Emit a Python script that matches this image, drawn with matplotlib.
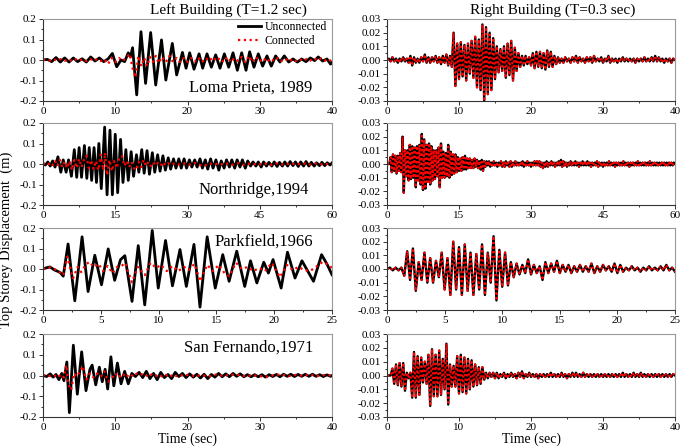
import matplotlib
matplotlib.use('Agg')
import matplotlib.pyplot as plt
import numpy as np
from matplotlib.ticker import MultipleLocator, AutoMinorLocator, FormatStrFormatter

plt.rcParams['font.family'] = ['Liberation Serif', 'DejaVu Serif']
plt.rcParams['axes.unicode_minus'] = False

# ---- left building (T=1.2 s): peaks, (time s, displacement m)
lp_unc = [(0, 0), (0.6, 0.003), (1.2, -0.008), (1.8, 0.012), (2.4, -0.01), (3.0, 0.01),
          (3.6, -0.01), (4.2, 0.01), (4.8, -0.008), (5.4, 0.006), (6.0, -0.01), (6.6, 0.015),
          (7.2, -0.005), (7.8, 0.01), (8.4, -0.008), (9.0, 0.005), (9.6, 0.032), (10.2, -0.033),
          (10.8, 0.0), (11.3, -0.008), (11.8, 0.035), (12.1, 0.015), (12.4, 0.06), (12.97, -0.17),
          (13.56, 0.138), (14.2, -0.114), (14.9, 0.134), (15.6, -0.122), (16.4, 0.098),
          (17.0, -0.098), (17.9, 0.081), (18.5, -0.073), (19.3, 0.037), (19.8, -0.04),
          (20.3, 0.035), (20.9, -0.045), (21.6, 0.03), (22.1, -0.04), (22.7, 0.03), (23.3, -0.035),
          (23.9, 0.025), (24.5, -0.04), (25.1, 0.03), (25.7, -0.035), (26.3, 0.035), (26.9, -0.05),
          (27.5, 0.035), (28.1, -0.05), (28.6, 0.04), (29.2, -0.035), (29.8, 0.03), (30.4, -0.03),
          (31.0, 0.02), (31.6, -0.03), (32.2, 0.02), (32.8, -0.01), (33.4, 0.02), (34.0, -0.01),
          (34.6, 0.005), (35.2, -0.01), (35.8, 0.005), (36.4, -0.008), (37.0, 0.01), (37.6, -0.003),
          (38.1, 0.015), (38.7, -0.005), (39.3, 0.005), (39.8, -0.02), (40.0, -0.012)]
lp_con = [(0, 0), (0.5, 0.002), (1.0, -0.003), (1.5, 0.004), (2.0, -0.004), (2.5, 0.005),
          (3.0, -0.004), (3.5, 0.004), (4.0, -0.005), (4.5, 0.004), (5.0, -0.004), (5.5, 0.005),
          (6.0, -0.005), (6.5, 0.006), (7.0, -0.004), (7.5, 0.005), (8.0, -0.005), (8.5, 0.004),
          (9.0, -0.02), (9.5, 0.01), (10.0, -0.01), (10.5, 0.01), (11.0, -0.005), (11.5, 0.01),
          (12.0, 0.03), (12.4, -0.04), (12.8, -0.085), (13.2, 0.02), (13.6, -0.03), (14.0, 0.01),
          (14.4, -0.03), (14.8, 0.015), (15.2, -0.01), (15.6, 0.02), (16.0, -0.015), (16.5, 0.015),
          (17.0, -0.01), (17.5, 0.02), (18.0, -0.01), (18.5, 0.01), (19.0, -0.01), (19.5, 0.01),
          (20.0, -0.01), (20.5, 0.01), (21.0, -0.008), (21.5, 0.012), (22.0, -0.01), (22.5, 0.01),
          (23.0, -0.005), (23.5, 0.015), (24.0, -0.005), (24.5, 0.01), (25.0, -0.01), (25.5, 0.015),
          (26.0, -0.01), (26.5, 0.01), (27.0, -0.005), (27.5, 0.015), (28.0, -0.01), (28.5, 0.02),
          (29.0, -0.01), (29.5, 0.015), (30.0, -0.008), (30.5, 0.01), (31.0, -0.01), (31.5, 0.008),
          (32.0, -0.005), (32.5, 0.01), (33.0, -0.005), (33.5, 0.008), (34.0, -0.008), (34.5, 0.005),
          (35.0, -0.005), (35.5, 0.005), (36.0, -0.005), (36.5, 0.005), (37.0, -0.003), (37.5, 0.01),
          (38.0, -0.003), (38.5, 0.008), (39.0, -0.003), (39.5, 0.005), (40.0, -0.01)]

nr_unc = [(0, 0), (0.5, -0.005), (1.0, 0.01), (1.5, -0.01), (2.0, 0.015), (2.5, -0.015),
          (3.1, 0.035), (3.7, -0.04), (4.2, 0.02), (4.8, -0.04), (5.3, 0.02), (5.9, -0.06),
          (6.5, 0.07), (7.0, -0.065), (7.5, 0.08), (8.0, -0.065), (8.6, 0.09), (9.1, -0.07),
          (9.6, 0.08), (10.1, -0.08), (10.6, 0.08), (11.1, -0.09), (11.6, 0.10), (12.1, -0.12),
          (12.8, 0.18), (13.3, -0.15), (13.9, 0.165), (14.4, -0.15), (15.0, 0.145), (15.5, -0.14),
          (16.1, 0.12), (16.6, -0.09), (17.2, 0.07), (17.7, -0.08), (18.3, 0.06), (18.8, -0.06),
          (19.4, 0.045), (19.9, -0.04), (20.5, 0.07), (21.0, -0.045), (21.6, 0.065), (22.1, -0.05),
          (22.7, 0.055), (23.2, -0.04), (23.8, 0.045), (24.3, -0.035), (24.9, 0.04), (25.4, -0.03),
          (26.0, 0.03), (26.5, -0.025), (27.1, 0.025), (27.6, -0.02), (28.2, 0.025), (28.7, -0.02),
          (29.3, 0.025), (29.8, -0.02), (30.4, 0.02), (30.9, -0.015), (31.5, 0.02), (32.0, -0.015),
          (32.6, 0.025), (33.1, -0.02), (33.7, 0.02), (34.2, -0.025), (34.8, 0.025), (35.3, -0.02),
          (35.9, 0.02), (36.5, -0.03), (37.0, 0.015), (37.6, -0.02), (38.1, 0.02), (38.7, -0.015),
          (39.2, 0.02), (39.8, -0.02), (40.3, 0.02), (40.9, -0.015), (41.4, 0.02), (42.0, -0.02),
          (42.5, 0.015), (43.1, -0.01), (43.6, 0.01), (44.2, -0.01), (44.7, 0.01), (45.3, -0.015),
          (45.8, 0.01), (46.4, -0.01), (46.9, 0.008), (47.5, -0.01), (48.0, 0.01), (48.6, -0.012),
          (49.1, 0.008), (49.7, -0.01), (50.2, 0.01), (50.8, -0.01), (51.3, 0.012), (51.9, -0.008),
          (52.4, 0.01), (53.0, -0.012), (53.5, 0.01), (54.1, -0.01), (54.6, 0.012), (55.2, -0.01),
          (55.7, 0.008), (56.3, -0.01), (56.8, 0.006), (57.4, -0.008), (57.9, 0.008), (58.5, -0.008),
          (59.0, 0.006), (59.6, -0.005), (60.0, 0.005)]
nr_con = [(0, 0), (0.5, 0.003), (1.0, -0.005), (1.5, 0.008), (2.0, -0.005), (2.5, 0.015),
          (3.0, -0.01), (3.5, 0.02), (4.0, -0.015), (4.5, 0.01), (5.0, -0.02), (5.5, 0.015),
          (6.0, -0.03), (6.5, 0.02), (7.0, -0.02), (7.5, 0.025), (8.0, -0.015), (8.5, 0.02),
          (9.0, 0.04), (9.5, -0.02), (10.0, 0.02), (10.5, -0.025), (11.0, 0.015), (11.5, -0.03),
          (12.0, 0.045), (12.5, -0.03), (12.9, 0.055), (13.3, -0.055), (13.8, 0.02), (14.3, -0.035),
          (14.8, 0.015), (15.3, -0.02), (15.8, 0.025), (16.4, 0.04), (16.9, -0.01), (17.4, 0.015),
          (17.9, -0.015), (18.4, 0.01), (18.9, -0.02), (19.4, -0.03), (19.9, 0.01), (20.4, -0.015),
          (20.9, 0.02), (21.4, -0.01), (21.9, 0.01), (22.4, -0.01), (22.9, 0.008), (23.4, -0.008),
          (23.9, 0.006), (24.4, -0.008), (24.9, 0.01), (25.4, -0.006), (25.9, 0.005), (26.5, -0.005),
          (27.5, 0.005), (28.5, -0.005), (29.5, 0.004), (30.5, -0.004), (31.5, 0.005), (32.5, -0.005),
          (33.5, -0.01), (34.5, 0.005), (35.5, -0.004), (36.5, 0.004), (37.5, -0.005), (38.5, 0.004),
          (39.5, -0.004), (40.5, 0.004), (41.5, -0.004), (42.5, 0.003), (43.5, -0.004), (44.5, 0.003),
          (45.5, -0.004), (46.5, 0.003), (47.5, -0.005), (48.5, 0.003), (49.5, -0.003), (50.5, 0.003),
          (51.5, -0.003), (52.5, 0.004), (53.5, -0.003), (54.5, 0.003), (55.5, -0.003), (56.5, 0.003),
          (57.5, -0.003), (58.5, 0.002), (59.5, -0.002), (60.0, 0)]

pf_unc = [(0, 0), (0.3, 0.006), (0.6, 0.01), (1.0, -0.005), (1.3, -0.012), (1.5, -0.018),
          (1.75, -0.035), (2.17, 0.122), (2.75, -0.155), (3.38, 0.157), (3.9, -0.11), (4.48, 0.067),
          (5.06, -0.077), (5.64, 0.098), (6.2, -0.055), (6.7, 0.045), (7.08, 0.065), (7.7, -0.158),
          (8.24, 0.114), (8.8, -0.175), (9.45, 0.188), (9.97, -0.093), (10.6, 0.139), (11.2, -0.082),
          (11.85, 0.095), (12.4, -0.085), (13.06, 0.12), (13.58, -0.186), (14.2, 0.157),
          (14.9, -0.093), (15.55, 0.07), (16.1, -0.06), (16.76, 0.087), (17.45, -0.085), (17.95, 0.04),
          (18.5, -0.068), (19.1, 0.033), (19.5, -0.02), (19.9, 0.046), (20.6, -0.093), (21.15, 0.082),
          (21.8, -0.044), (22.4, 0.04), (23.4, -0.06), (24.1, 0.07), (24.6, 0.02), (25.0, -0.028)]
pf_con = [(0, 0), (0.6, 0.008), (1.2, -0.005), (1.75, -0.03), (2.1, 0.06), (2.6, -0.045),
          (3.0, 0.01), (3.3, -0.015), (3.7, 0.02), (4.0, 0.035), (4.4, 0.01), (4.8, 0.025),
          (5.2, -0.01), (5.6, 0.015), (6.0, -0.02), (6.4, 0.01), (6.8, 0.015), (7.1, 0.03),
          (7.7, -0.065), (8.2, 0.01), (8.8, -0.03), (9.3, 0.03), (9.8, 0.005), (10.2, 0.02),
          (10.7, -0.01), (11.2, 0.015), (11.7, -0.01), (12.2, 0.01), (12.6, -0.005), (13.1, 0.025),
          (13.6, -0.06), (14.2, 0.02), (14.7, -0.01), (15.2, 0.02), (15.7, -0.02), (16.1, -0.035),
          (16.7, 0.03), (17.2, 0.0), (17.7, 0.01), (18.2, -0.01), (18.7, 0.005), (19.2, -0.01),
          (19.8, 0.03), (20.5, -0.04), (21.1, 0.02), (21.6, -0.005), (22.1, 0.01), (22.6, -0.005),
          (23.1, -0.01), (23.6, 0.01), (24.2, 0.035), (24.7, 0.02), (25.0, 0.005)]

sf_unc = [(0, 0), (0.5, -0.005), (1.0, 0.008), (1.4, -0.008), (1.8, 0.005), (2.2, -0.02),
          (2.6, 0.01), (2.9, -0.025), (3.3, 0.065), (3.65, -0.179), (4.2, 0.146), (4.75, -0.09),
          (5.35, 0.114), (5.95, -0.073), (6.5, 0.03), (6.8, 0.05), (7.3, -0.045), (7.8, 0.04),
          (8.2, -0.03), (8.6, 0.03), (8.95, -0.065), (9.4, 0.09), (9.8, -0.05), (10.3, 0.06),
          (10.8, -0.04), (11.3, 0.02), (11.8, -0.04), (12.3, 0.01), (12.8, -0.005), (13.3, 0.015),
          (13.8, -0.01), (14.3, 0.02), (14.8, -0.015), (15.3, 0.01), (15.8, -0.02), (16.3, 0.015),
          (16.8, -0.01), (17.3, 0.005), (17.8, -0.015), (18.3, 0.015), (18.8, -0.005), (19.3, 0.01),
          (19.8, -0.01), (20.3, 0.008), (20.8, -0.008), (21.3, 0.006), (21.8, -0.012), (22.3, 0.006),
          (22.8, -0.015), (23.3, 0.005), (23.8, -0.008), (24.3, 0.01), (24.8, -0.006), (25.3, 0.008),
          (25.8, -0.006), (26.3, 0.01), (26.8, -0.004), (27.3, 0.008), (27.8, -0.006), (28.3, 0.004),
          (28.8, -0.006), (29.3, 0.004), (29.8, -0.006), (30.3, 0.004), (30.8, -0.008), (31.3, 0.004),
          (31.8, -0.005), (32.3, 0.005), (32.8, -0.006), (33.3, 0.006), (33.8, -0.004), (34.3, 0.006),
          (34.8, -0.005), (35.3, 0.005), (35.8, -0.004), (36.3, 0.006), (36.8, -0.004), (37.3, 0.006),
          (37.8, -0.004), (38.3, 0.004), (38.8, -0.005), (39.3, 0.003), (39.8, -0.004), (40.0, 0)]
sf_con = [(0, 0), (0.5, 0.003), (1.0, -0.003), (1.5, 0.003), (2.0, -0.01), (2.5, 0.005),
          (2.9, -0.01), (3.2, 0.05), (3.5, -0.04), (3.9, -0.07), (4.3, 0.01), (4.7, -0.005),
          (5.1, 0.02), (5.5, 0.045), (6.0, -0.02), (6.5, 0.01), (7.0, -0.01), (7.5, 0.01),
          (8.0, -0.005), (8.5, 0.02), (9.0, -0.03), (9.5, -0.015), (10.0, 0.01), (10.5, -0.01),
          (11.0, 0.01), (11.5, -0.01), (12.0, 0.008), (12.5, -0.005), (13.0, 0.01), (13.5, 0.003),
          (14.0, 0.01), (14.5, -0.005), (15.0, 0.005), (15.5, -0.005), (16.0, 0.005), (16.5, -0.005),
          (17.0, 0.003), (17.5, -0.008), (18.0, 0.005), (18.5, -0.003), (19.0, 0.003), (19.5, -0.003),
          (20.0, 0.003), (21.0, -0.003), (22.0, 0.002), (23.0, -0.004), (24.0, 0.005), (25.0, -0.003),
          (26.0, 0.005), (27.0, 0.003), (28.0, -0.003), (29.0, 0.002), (30.0, -0.003), (31.0, -0.006),
          (32.0, 0.002), (33.0, 0.005), (34.0, -0.003), (35.0, 0.003), (36.0, -0.002), (37.0, 0.004),
          (38.0, -0.002), (39.0, 0.002), (40.0, 0)]

# ---- right building (T=0.3 s): one reading every 0.25 s, in mm (rows = 2 s)
DT_RIGHT = 0.25
lp_r = [0, 1, -1, 2, -1, 1, -2, 1,
        -1, 2, -1, 1, -2, 3, -4, 2,
        -2, 1, -2, 2, -1, 4, -2, 2,
        -2, 2, -1, 3, -2, 2, -3, 3,
        -2, 4, -4, 3, -5, 20, -19, 12,
        -14, 13, -12, 11, -15, 12, -10, 14,
        -13, 17, -20, 15, -22, 26, -30, 24,
        -25, 20, -22, 16, -14, 10, -9, 8,
        -8, 10, -13, 12, -11, 14, -15, 9,
        -8, 5, -5, 3, -4, 3, -3, 2,
        -4, 5, -6, 6, -5, 6, -6, 5,
        -7, 7, -5, 6, -5, 3, -3, 2,
        -2, 1, -2, 2, -1, 1, -2, 2,
        -1, 3, -2, 2, -1, 1, -2, 2,
        -1, 2, -2, 3, -1, 1, -1, 2,
        -2, 1, -1, 3, -2, 1, -1, 1,
        -2, 1, -1, 2, -1, 1, -1, 1,
        -1, 1, -2, 1, -1, 1, -1, 2,
        -1, 1, -1, 2, -1, 3, -1, 2,
        -1, 1, -2, 1, -1, 1, -2, 1,
        0]
nr_r = [0, 0, 0, 5, -6, 7, -5, 6,
        -7, 6, -5, 8, -6, 20, -21, 10,
        -9, 10, -12, 14, -11, 13, -10, 12,
        -17, 13, -12, 14, -15, 22, -19, 18,
        -18, 14, -13, 15, -15, 13, -12, 10,
        -11, 10, -9, 12, -17, 15, -10, 9,
        -10, 8, -9, 14, -10, 9, -8, 7,
        -7, 7, -6, 5, -5, 4, -5, 5,
        -4, 6, -4, 4, -3, 4, -3, 3,
        -3, 4, -2, 3, -3, 2, -4, 3,
        -5, 2, -2, 2, -1, 2, -2, 1,
        -1, 2, -1, 1, -2, 1, -1, 2,
        -2, 1, -2, 2, -1, 1, -2, 2,
        -2, 1, -1, 2, -1, 1, -1, 1,
        -1, 2, -2, 1, -1, 2, -1, 1,
        -2, 1, -1, 2, -1, 2, -1, 2,
        -2, 1, -3, 1, -2, 2, -2, 1,
        -1, 2, -1, 1, -2, 1, -1, 2,
        -1, 3, -2, 2, -1, 1, -2, 1,
        -1, 2, -1, 1, -1, 2, -1, 1,
        -2, 1, -1, 2, -1, 1, -1, 2,
        -1, 1, -2, 1, -1, 1, -1, 2,
        -2, 1, -1, 1, -2, 1, -1, 1,
        -1, 2, -1, 1, -1, 1, -2, 1,
        -1, 1, -1, 1, -1, 2, -1, 1,
        -1, 1, -2, 1, -1, 1, -1, 1,
        -1, 2, -1, 1, -1, 1, -1, 1,
        -1, 1, -1, 2, -1, 1, -1, 1,
        -1, 1, -1, 1, -1, 1, -1, 1,
        -1, 1, -1, 1, -1, 1, -1, 1,
        0]
pf_r = [0, 1, -1, 1, -1, 1, -5, 13,
        -8, 15, -16, 5, -8, 12, -10, 8,
        -10, 6, -6, 12, -15, 8, -19, 20,
        -15, 16, -19, 18, -16, 12, -19, 11,
        -15, 18, -19, 12, -10, 24, -23, 14,
        -13, 12, -12, 5, -6, 4, -4, 3,
        -3, 7, -4, 3, -3, 2, -8, 5,
        -3, 4, -2, 6, -3, 3, -2, 3,
        -3, 2, -2, 3, -2, 2, -2, 4,
        -3, 2, -2, 3, -1, 2, -2, 4,
        -3, 3, -2, 1, -1, 2, -1, 1,
        -2, 1, -1, 2, -1, 1, -1, 2,
        -1, 3, -1, 1, -2]
sf_r = [0, 0, 0, 5, -6, 8, -7, 9,
        -8, 9, -11, 2, -2, 2, -16, 17,
        -16, 14, -14, 13, -5, 10, -6, 15,
        -22, 19, -15, 15, -15, 18, -14, 12,
        -10, 23, -21, 8, -8, 7, -8, 14,
        -13, 15, -12, 13, -13, 12, -10, 11,
        -8, 8, -7, 6, -6, 6, -3, 2,
        -2, 2, -1, 2, -2, 2, -2, 1,
        -1, 2, -2, 1, -1, 2, -1, 1,
        -2, 2, -1, 3, -2, 1, -1, 2,
        -1, 1, -1, 1, -2, 1, -1, 1,
        -1, 1, -1, 2, -1, 1, -1, 1,
        -1, 2, -1, 1, -2, 1, -1, 2,
        -1, 2, -1, 1, -1, 2, -1, 1,
        -1, 1, -1, 1, -1, 1, -1, 1,
        -1, 1, -1, 1, -1, 1, -1, 1,
        -1, 1, -1, 2, -1, 1, -1, 1,
        -1, 2, -1, 1, -1, 2, -1, 1,
        -1, 1, -1, 1, -1, 1, -1, 1,
        -1, 1, -1, 1, -1, 1, -1, 1,
        0]

events = ['Loma Prieta, 1989', 'Northridge,1994', 'Parkfield,1966', 'San Fernando,1971']
durations = [40, 60, 25, 40]
xsteps = [10, 15, 5, 10]
left_series = [(lp_unc, lp_con), (nr_unc, nr_con), (pf_unc, pf_con), (sf_unc, sf_con)]
right_series = [lp_r, nr_r, pf_r, sf_r]
label_pos = [(0.93, 0.16), (0.92, 0.18), (0.935, 0.83), (0.935, 0.84)]


def style_axes(ax, xmax, xstep, ylim, ystep, yfmt):
    ax.set_xlim(0, xmax)
    ax.set_ylim(-ylim, ylim)
    ax.xaxis.set_major_locator(MultipleLocator(xstep))
    ax.xaxis.set_minor_locator(AutoMinorLocator(2))
    ax.yaxis.set_major_locator(MultipleLocator(ystep))
    ax.yaxis.set_minor_locator(AutoMinorLocator(2))
    ax.yaxis.set_major_formatter(FormatStrFormatter(yfmt))
    ax.tick_params(which='both', direction='out', labelsize=8, pad=1.5, width=0.7,
                   colors='#333333', labelcolor='black')
    ax.tick_params(which='major', length=3)
    ax.tick_params(which='minor', length=1.5)
    for side in ['top', 'right']:
        ax.spines[side].set_color('#999999')
    for side in ['left', 'bottom']:
        ax.spines[side].set_color('#333333')
    for sp in ax.spines.values():
        sp.set_linewidth(0.8)


W, H = 685, 447
fig = plt.figure(figsize=(W / 100, H / 100), dpi=100)
rows = [(19, 101), (123, 205), (228, 310), (334, 417)]
left_x = (43, 332)
right_x = (387, 675)

for i, (top, bot) in enumerate(rows):
    y0 = 1 - bot / H
    h = (bot - top) / H
    axl = fig.add_axes([left_x[0] / W, y0, (left_x[1] - left_x[0]) / W, h])
    axr = fig.add_axes([right_x[0] / W, y0, (right_x[1] - right_x[0]) / W, h])

    unc, con = left_series[i]
    tu, yu = zip(*unc)
    tc, yc = zip(*con)
    axl.plot(tu, yu, color='black', lw=2.0, solid_joinstyle='round', label='Unconnected')
    axl.plot(tc, yc, color='red', lw=1.6, linestyle=(0, (1, 1.6)), label='Connected')
    style_axes(axl, durations[i], xsteps[i], 0.2, 0.1, '%.1f')
    axl.text(label_pos[i][0], label_pos[i][1], events[i], transform=axl.transAxes,
             ha='right', va='center', fontsize=12)

    # connected and unconnected right-building responses coincide at this scale
    vals = np.array(right_series[i]) / 1000.0
    tr = np.arange(len(vals)) * DT_RIGHT
    axr.plot(tr, vals, color='black', lw=1.7, solid_joinstyle='round')
    axr.plot(tr, vals, color='red', lw=1.5, linestyle=(0, (1, 1.2)))
    style_axes(axr, durations[i], xsteps[i], 0.03, 0.01, '%.2f')

    if i == 0:
        axl.legend(loc='upper left', bbox_to_anchor=(0.665, 1.0), frameon=False, fontsize=8.5,
                   handlelength=2.0, handletextpad=0.3, labelspacing=0.15,
                   borderaxespad=0, borderpad=0.2)
        axl.text(0.64, 1.11, 'Left Building (T=1.2 sec)', transform=axl.transAxes,
                 ha='center', va='center', fontsize=11)
        axr.text(0.575, 1.11, 'Right Building (T=0.3 sec)', transform=axr.transAxes,
                 ha='center', va='center', fontsize=11)
    if i == 3:
        axl.set_xlabel('Time (sec)', fontsize=10, labelpad=0)
        axr.set_xlabel('Time (sec)', fontsize=10, labelpad=0)

fig.text(0.009, 0.463, 'Top Storey Displacement  (m)', rotation=90, ha='center',
         va='center', fontsize=10.5)

fig.savefig('out.png', dpi=100)
